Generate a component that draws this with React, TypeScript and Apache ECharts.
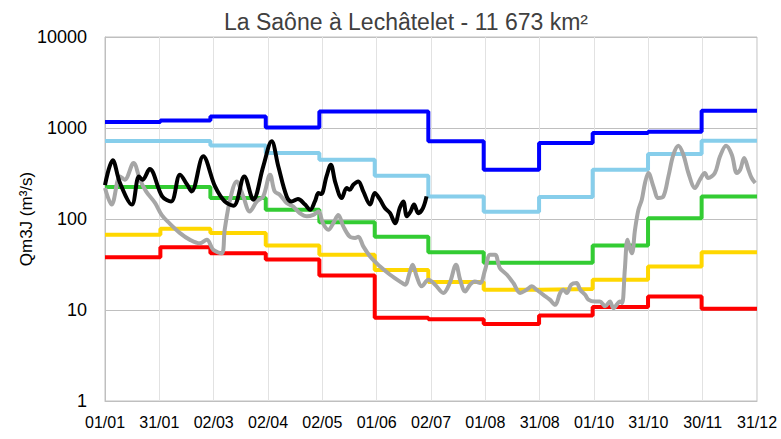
import React, { useEffect, useRef } from "react";
import * as echarts from "echarts";

const TITLE = "La Saône à Lechâtelet - 11 673 km²";
const Y_NAME = "Qm3J (m³/s)";
const xLabels = ["01/01", "31/01", "02/03", "02/04", "02/05", "01/06", "02/07", "01/08", "31/08", "01/10", "31/10", "30/11", "31/12"];

// first day (0-based) of each month, plus end of year
const monthStartDays = [0, 31, 59, 90, 120, 151, 181, 212, 243, 273, 304, 334, 365];

// monthly reference flows (m3/s)
const blueMonthly = [1164, 1212, 1340, 1010, 1521, 1521, 713, 348, 684, 881, 911, 1549];
const lightBlueMonthly = [720, 720, 644, 531, 449, 299, 177, 120, 174, 348, 518, 725];
const greenMonthly = [225, 225, 170, 126, 92, 64, 43, 33, 33, 51, 102, 177];
const yellowMonthly = [67, 78, 70, 51, 40.5, 27.5, 20.3, 16.7, 17, 21.5, 30, 43];
const redMonthly = [38, 49, 42, 36, 24, 8.2, 7.9, 7.0, 8.7, 10.8, 14.1, 10.3];

// daily flows [day of year, value]
const previousYear: [number, number][] = [
  [0, 219], [3.7, 144], [8.4, 294], [11, 270], [16, 412], [19.6, 270], [23, 201], [28, 150],
  [31.7, 111], [36, 90], [42, 70], [47.6, 59], [53, 54], [57, 59], [60.6, 46], [65.3, 42],
  [67, 76], [70, 163], [73.7, 259], [77.4, 177], [81, 121], [85, 156], [88.6, 177], [92.4, 307],
  [95, 201], [97.8, 185], [101.7, 150], [105.4, 137], [109, 116], [113, 107], [116.6, 111],
  [119.5, 121], [122, 90], [125, 76], [127.8, 90], [130.6, 111], [133.4, 83], [137, 64],
  [140, 62], [141.8, 64], [144.6, 50], [148.4, 38.8], [152, 32.8], [154, 30.1], [159.6, 24.4],
  [165, 20.6], [168, 19], [170.5, 25.5], [172.2, 31.5], [174.5, 23.4], [177.3, 18.2], [181, 21.5],
  [184.8, 19], [189.4, 15.4], [193, 19.8], [196.5, 31.5], [198.8, 21.5], [201.6, 16], [204.4, 19],
  [207, 20.6], [210, 19.8], [212.8, 27.7], [215.6, 40.5], [218.4, 40.5], [221, 29], [225, 24.4],
  [228.6, 19.8], [232.4, 15.4], [236, 16.7], [239, 18.2], [241.6, 16.7], [245.4, 14.7], [249, 13],
  [252, 11.4], [254.8, 15.4], [256.6, 16.7], [258.5, 15.4], [261, 19], [264, 19.8], [266, 16.7],
  [268.8, 14.7], [270.6, 13], [274.4, 12.4], [277, 12.4], [280, 11], [282.7, 12.4], [284.6, 10.5],
  [288.4, 12.4], [289.5, 11.9], [291, 27.7], [292.5, 59], [294, 46], [295, 42], [296.7, 76],
  [298.6, 126], [300.5, 163], [302.3, 249], [304.2, 320], [307, 228], [309.8, 170], [312.6, 177],
  [315.4, 294], [318.2, 509], [321, 639], [323.8, 509], [326.6, 320], [330.3, 219], [333, 270],
  [335.8, 320], [337.6, 282], [341.4, 320], [344.3, 488], [347.7, 639], [350.9, 509], [353.7, 320],
  [355.6, 348], [357.8, 468], [360.2, 348], [362, 282], [364, 249],
];

const currentYear: [number, number][] = [
  [0, 235], [4.3, 441], [8.4, 249], [15, 144], [19, 294], [21, 270], [25, 354], [32, 177],
  [37, 156], [42, 307], [46, 238], [48.5, 201], [55, 488], [61.6, 228], [67, 156], [72, 140],
  [78, 294], [83, 163], [88.6, 379], [93.3, 713], [97, 379], [101.7, 177], [104.5, 156], [108, 166],
  [112, 144], [114.8, 126], [117.5, 156], [119.5, 193], [121, 188], [124, 294], [126.4, 395],
  [129, 249], [132.5, 170], [135.3, 219], [137, 210], [139, 238], [141.8, 259], [144.6, 201],
  [148.4, 144], [151, 193], [154, 163], [156.7, 132], [159.6, 116], [162.4, 90], [165, 132],
  [167, 156], [169, 107], [171, 120], [173, 144], [175.4, 116], [178, 132], [180, 177],
];

const DAYS_PER_UNIT = 365 / 12;
const toUnit = (d: number) => d / DAYS_PER_UNIT;

const monthlySeries = (values: number[]) =>
  monthStartDays.map((d, i) => [toUnit(d), values[Math.min(i, values.length - 1)]]);
const dailySeries = (pts: [number, number][]) => pts.map(([d, v]) => [toUnit(d), v]);

const FONT = "Liberation Sans";

export default function App() {
  const ref = useRef<HTMLDivElement>(null);
  useEffect(() => {
    if (!ref.current) return;
    const chart = echarts.init(ref.current, undefined, { renderer: "svg" });
    const stepSeries = (name: string, values: number[], color: string) => ({
      name,
      type: "line",
      step: "end",
      data: monthlySeries(values),
      showSymbol: false,
      lineStyle: { color, width: 4 },
      itemStyle: { color },
      z: 2,
    });
    chart.setOption({
      animation: false,
      backgroundColor: "#ffffff",
      title: {
        text: TITLE,
        left: 401,
        textAlign: "center",
        top: 5,
        textStyle: { fontFamily: FONT, fontSize: 23, fontWeight: "normal", color: "#404040" },
      },
      grid: { left: 105, right: 24, top: 37, bottom: 38, show: true, borderColor: "#C0C0C0", borderWidth: 1 },
      xAxis: {
        type: "value",
        min: 0,
        max: 12,
        interval: 1,
        axisLine: { show: true, lineStyle: { color: "#BFBFBF" } },
        axisTick: { show: false },
        splitLine: { show: true, lineStyle: { color: "#E2E2E2", width: 1 } },
        axisLabel: {
          formatter: (v: number) => xLabels[Math.round(v)] ?? "",
          fontFamily: FONT,
          fontSize: 16,
          color: "#000",
          margin: 13,
        },
      },
      yAxis: {
        type: "log",
        logBase: 10,
        min: 1,
        max: 10000,
        name: Y_NAME,
        nameLocation: "middle",
        nameRotate: 90,
        nameGap: 70,
        nameMoveOverlap: false,
        nameTextStyle: { fontFamily: FONT, fontSize: 17, color: "#000" },
        axisLine: { show: true, lineStyle: { color: "#BFBFBF" } },
        axisTick: { show: false },
        splitLine: { show: true, lineStyle: { color: "#BFBFBF", width: 1 } },
        axisLabel: {
          formatter: (v: number) => String(Math.round(v)),
          fontFamily: FONT,
          fontSize: 18,
          color: "#000",
          margin: 18,
        },
      },
      series: [
        stepSeries("blue", blueMonthly, "#0000FF"),
        stepSeries("lightblue", lightBlueMonthly, "#87CEEB"),
        stepSeries("green", greenMonthly, "#33CC33"),
        stepSeries("yellow", yellowMonthly, "#FFD700"),
        stepSeries("red", redMonthly, "#FF0000"),
        {
          name: "previous",
          type: "line",
          data: dailySeries(previousYear),
          showSymbol: false,
          smooth: 0.35,
          lineStyle: { color: "#A6A6A6", width: 4 },
          itemStyle: { color: "#A6A6A6" },
          z: 3,
        },
        {
          name: "current",
          type: "line",
          data: dailySeries(currentYear),
          showSymbol: false,
          smooth: 0.35,
          lineStyle: { color: "#000000", width: 4 },
          itemStyle: { color: "#000000" },
          z: 4,
        },
      ],
    });
    return () => chart.dispose();
  }, []);
  return <div ref={ref} style={{ width: 781, height: 439, position: "absolute", left: 0, top: 0 }} />;
}
